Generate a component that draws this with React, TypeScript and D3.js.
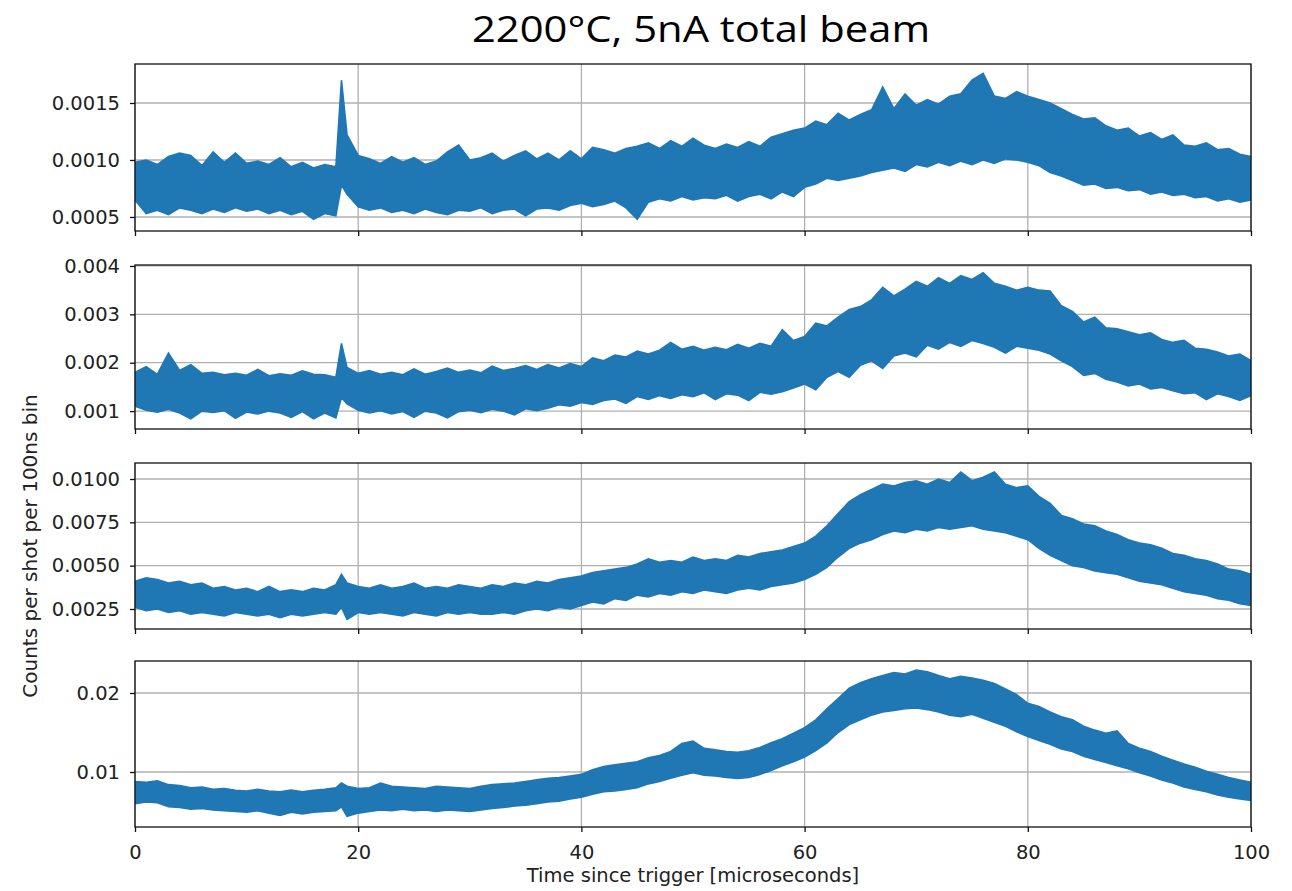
import React, { useEffect, useRef } from 'react';
import * as d3 from 'd3';

// sample times in microseconds (extra point at 18.5 for the prompt spike)
const TIME_US = [...d3.range(0, 19), 18.5, ...d3.range(19, 101)];
const X_TICKS = [0, 20, 40, 60, 80, 100];

// upper / lower edge of the noisy trace, in units of 1e-4 counts
const hi1 = [
  9.8, 10.0, 9.6, 10.3, 10.6, 10.4, 9.5, 10.7, 9.8, 10.6, 9.7, 9.9, 9.6, 10.2, 9.4, 9.8, 9.3, 9.6, 9.4,
  17.0,
  12.2, 10.4, 10.1, 9.7, 10.3, 9.8, 10.2, 9.6, 9.9, 10.7, 11.3, 10.0,
  10.2, 10.6, 9.9, 10.4, 10.8, 10.1, 10.6, 10.0, 10.8, 10.1,
  11.1, 10.9, 10.6, 11.0, 11.2, 11.5, 11.0, 11.7, 11.2, 11.9,
  11.3, 11.0, 11.4, 11.1, 11.6, 11.2, 12.0, 12.3, 12.6, 12.8,
  13.4, 13.1, 14.1, 13.5, 14.0, 14.4, 16.4, 14.5, 15.8, 14.8,
  15.3, 14.9, 15.6, 15.8, 17.0, 17.6, 15.6, 15.4, 16.0, 15.6,
  15.3, 15.0, 14.5, 14.0, 13.6, 13.7, 13.0, 12.6, 12.8, 12.1,
  12.4, 11.8, 12.2, 11.3, 11.2, 11.5, 10.9, 11.0, 10.5, 10.3,
];
const lo1 = [
  6.5, 5.3, 5.6, 5.2, 5.8, 5.6, 5.3, 5.7, 5.4, 5.8, 5.5, 5.7, 5.3, 5.6, 5.2, 5.5, 4.8, 5.3, 5.1,
  7.8,
  7.0, 5.9, 5.6, 5.8, 5.4, 5.6, 5.3, 5.7, 5.4, 5.2, 5.6, 5.5,
  5.8, 5.3, 5.6, 5.7, 5.1, 5.7, 5.8, 5.6, 6.0, 6.2,
  5.9, 6.1, 6.4, 5.8, 4.8, 6.3, 6.6, 6.4, 6.8, 6.5,
  6.7, 6.6, 6.9, 6.4, 6.8, 7.0, 6.6, 7.2, 6.8, 7.6,
  7.9, 8.4, 8.2, 8.4, 8.6, 8.9, 9.1, 9.3, 9.0, 9.6,
  9.4, 9.8, 9.5, 9.9, 9.6, 10.0, 9.7, 10.1, 10.0, 9.8,
  9.5, 8.9, 8.6, 8.2, 7.8, 7.9, 7.5, 7.6, 7.3, 7.4,
  7.0, 7.2, 6.9, 7.0, 6.7, 6.8, 6.4, 6.6, 6.3, 6.5,
];

const hi2 = [
  18.0, 19.2, 17.6, 22.0, 18.4, 19.6, 17.8, 18.0, 17.5, 17.8, 17.4, 18.6, 17.3, 17.7, 17.4, 18.3, 17.6, 17.5, 17.0,
  24.0,
  19.0, 17.8, 18.4, 17.6, 18.0, 17.5, 18.7, 17.6, 18.2, 18.9, 18.0, 18.5,
  17.9, 19.3, 18.4, 18.8, 19.4, 18.6, 19.6, 18.9, 19.8, 19.2,
  21.0, 20.4, 21.6, 21.2, 22.4, 21.8, 22.6, 24.2, 22.8, 23.4,
  22.6, 23.2, 22.7, 23.8, 23.0, 24.0, 23.4, 26.8, 24.6, 25.4,
  28.2, 27.6, 29.4, 31.0, 31.6, 33.0, 35.6, 33.8, 35.2, 36.8,
  35.8, 37.6, 36.4, 38.0, 37.2, 38.6, 36.4, 35.8, 35.0, 35.6,
  35.0, 34.8, 31.8, 30.6, 28.4, 29.4, 27.2, 27.0, 26.4, 25.8,
  26.2, 24.8, 24.2, 24.6, 23.0, 22.8, 22.2, 21.4, 21.8, 20.4,
];
const lo2 = [
  11.0, 10.2, 9.8, 10.4, 9.6, 8.4, 10.0, 9.7, 10.1, 8.5, 9.8, 9.4, 10.0, 9.6, 8.7, 9.9, 8.4, 9.6, 8.6,
  12.8,
  11.5, 10.2, 9.6, 10.1, 9.4, 9.9, 8.7, 10.0, 9.6, 8.6, 9.9, 10.2,
  9.7, 10.4, 10.0, 9.2, 10.5, 10.1, 10.6, 11.3, 11.0, 11.8,
  11.4, 12.2, 12.5, 11.6, 13.0, 12.4, 13.2, 12.6, 13.4, 13.0,
  13.8, 12.4, 13.6, 13.3, 12.2, 13.9, 13.5, 14.0, 14.8, 15.6,
  14.4, 17.0, 18.2, 17.0, 19.5, 20.4, 18.8, 21.4, 22.0, 21.2,
  23.6, 22.8, 24.2, 23.4, 24.6, 24.0, 23.2, 22.0, 23.4, 23.0,
  22.6, 21.8, 20.4, 19.2, 17.4, 17.8, 16.6, 16.0, 15.2, 15.6,
  14.6, 14.9, 14.2, 13.6, 13.8, 12.4, 13.6, 13.0, 12.2, 13.2,
];

const hi3 = [
  41, 43, 42, 40, 41, 39, 40, 37, 38, 36, 37, 35, 38, 35, 36, 35, 37, 36, 39,
  45,
  40, 38, 37, 39, 37, 38, 40, 37, 38, 37, 39, 38,
  37, 39, 38, 40, 39, 41, 40, 42, 43, 44,
  46, 47, 48, 49, 51, 54, 52, 53, 52, 55,
  53, 54, 53, 56, 55, 57, 58, 59, 61, 63,
  67, 73, 80, 87, 91, 94, 97, 96, 98, 99,
  97, 100, 98, 104, 99, 101, 104, 97, 95, 96,
  90, 86, 79, 77, 74, 73, 70, 68, 65, 63,
  62, 60, 57, 56, 54, 53, 51, 48, 47, 45,
];
const lo3 = [
  26, 24, 25, 23, 24, 22, 23, 22, 21, 23, 22, 21, 22, 20, 22, 21, 22, 23, 22,
  26,
  19, 23, 22, 23, 22, 21, 23, 22, 21, 23, 22, 23,
  22, 22, 23, 22, 24, 25, 24, 26, 25, 27,
  29, 28, 31, 30, 33, 32, 34, 33, 35, 34,
  36, 35, 34, 36, 37, 36, 38, 39, 40, 42,
  45, 49, 55, 60, 63, 65, 68, 70, 69, 71,
  70, 72, 71, 72, 73, 71, 70, 69, 67, 65,
  60, 56, 53, 50, 49, 47, 46, 45, 43, 41,
  40, 39, 37, 35, 34, 33, 31, 30, 28, 27,
];

const hi4 = [
  88, 87, 89, 84, 83, 80, 81, 78, 79, 77, 76, 78, 76, 75, 77, 75, 77, 78, 80,
  86,
  82, 79, 80, 86, 82, 81, 80, 79, 82, 81, 80, 79,
  82, 84, 85, 86, 88, 90, 92, 93, 95, 97,
  103, 107, 109, 111, 113, 118, 121, 126, 136, 139,
  130, 128, 126, 125, 127, 131, 137, 142, 149, 156,
  166, 180, 193, 206, 213, 218, 222, 226, 224, 229,
  227, 222, 218, 221, 219, 216, 212, 205, 198, 187,
  183, 176, 170, 166, 158, 153, 149, 152, 136, 130,
  126, 120, 115, 110, 106, 101, 97, 93, 90, 87,
];
const lo4 = [
  60, 62, 61, 56, 55, 53, 54, 52, 51, 50, 49, 51, 48, 45, 49, 47, 49, 50, 51,
  56,
  44, 48, 50, 52, 51, 53, 51, 52, 50, 52, 51, 50,
  52, 54, 55, 57, 58, 60, 62, 63, 66, 68,
  72, 75, 76, 78, 80, 85, 88, 92, 96, 99,
  96, 95, 93, 92, 93, 97, 102, 108, 113, 119,
  127, 137, 150, 160, 166, 172, 176, 178, 180, 181,
  179, 176, 172, 170, 173, 168, 163, 158, 151, 145,
  140, 135, 129, 126, 120, 116, 112, 108, 104, 99,
  95, 90, 86, 81, 78, 75, 71, 68, 66, 64,
];

const Y_DOMAINS = [
  [0.000377, 0.001842],
  [0.00063, 0.00402],
  [0.001346, 0.010923],
  [0.00304, 0.02405],
];
const Y_TICKS = [
  [0.0005, 0.001, 0.0015],
  [0.001, 0.002, 0.003, 0.004],
  [0.0025, 0.005, 0.0075, 0.01],
  [0.01, 0.02],
];
const Y_FORMATS = ['.4f', '.3f', '.4f', '.2f'];

const UPPER = [hi1, hi2, hi3, hi4];
const LOWER = [lo1, lo2, lo3, lo4];

const UNIT = 1e-4;
const BLUE = '#1f77b4';
const FONT = 'DejaVu Sans, sans-serif';

export default function App() {
  const svgRef = useRef<SVGSVGElement>(null);

  useEffect(() => {
    const svg = d3.select(svgRef.current);
    svg.selectAll('*').remove();

    const left = 135;
    const right = 1251;
    const boxes = [
      [64, 231],
      [265, 429],
      [463, 629],
      [661, 827],
    ];

    const x = d3.scaleLinear().domain([0, 100]).range([left, right]);

    svg.append('rect').attr('width', 1292).attr('height', 891).attr('fill', '#fff');

    boxes.forEach(([top, bottom], i) => {
      const y = d3.scaleLinear().domain(Y_DOMAINS[i]).range([bottom, top]);
      const g = svg.append('g');

      // grid
      g.selectAll('.vgrid')
        .data(X_TICKS)
        .enter()
        .append('line')
        .attr('x1', (d) => x(d))
        .attr('x2', (d) => x(d))
        .attr('y1', top)
        .attr('y2', bottom)
        .attr('stroke', '#b0b0b0')
        .attr('stroke-width', 1.3);
      g.selectAll('.hgrid')
        .data(Y_TICKS[i])
        .enter()
        .append('line')
        .attr('x1', left)
        .attr('x2', right)
        .attr('y1', (d) => y(d))
        .attr('y2', (d) => y(d))
        .attr('stroke', '#b0b0b0')
        .attr('stroke-width', 1.3);

      // trace band
      const clipId = `clip-${i}`;
      svg
        .append('clipPath')
        .attr('id', clipId)
        .append('rect')
        .attr('x', left)
        .attr('y', top)
        .attr('width', right - left)
        .attr('height', bottom - top);

      const lower = LOWER[i];
      const area = d3
        .area<number>()
        .x((_, j) => x(TIME_US[j]))
        .y0((_, j) => y(lower[j] * UNIT))
        .y1((d) => y(d * UNIT));

      g.append('path')
        .datum(UPPER[i])
        .attr('clip-path', `url(#${clipId})`)
        .attr('d', area)
        .attr('fill', BLUE)
        .attr('stroke', BLUE)
        .attr('stroke-width', 1.6)
        .attr('stroke-linejoin', 'miter');

      // axes
      const yAxis = g
        .append('g')
        .attr('transform', `translate(${left},0)`)
        .call(
          d3
            .axisLeft(y)
            .tickValues(Y_TICKS[i])
            .tickFormat(d3.format(Y_FORMATS[i]) as any)
            .tickSize(5)
            .tickPadding(10)
        );
      const xAxis = g
        .append('g')
        .attr('transform', `translate(0,${bottom})`)
        .call(
          d3
            .axisBottom(x)
            .tickValues(X_TICKS)
            .tickFormat((d) => (i === boxes.length - 1 ? String(d) : ''))
            .tickSize(5)
            .tickPadding(13)
        );
      [yAxis, xAxis].forEach((a) => {
        a.select('.domain').remove();
        a.attr('font-family', FONT).attr('font-size', 19.5).attr('color', '#222');
        a.selectAll('line').attr('stroke', '#111').attr('stroke-width', 1.3);
      });

      // spines
      g.append('rect')
        .attr('x', left)
        .attr('y', top)
        .attr('width', right - left)
        .attr('height', bottom - top)
        .attr('fill', 'none')
        .attr('stroke', '#111')
        .attr('stroke-width', 1.3);
    });

    svg
      .append('text')
      .attr('x', 701)
      .attr('y', 42)
      .attr('text-anchor', 'middle')
      .attr('font-family', 'Open Sans, sans-serif')
      .attr('font-size', 37)
      .attr('textLength', 458)
      .attr('lengthAdjust', 'spacingAndGlyphs')
      .attr('fill', '#000')
      .text('2200°C, 5nA total beam');

    svg
      .append('text')
      .attr('x', (left + right) / 2)
      .attr('y', 882)
      .attr('text-anchor', 'middle')
      .attr('font-family', FONT)
      .attr('font-size', 19.5)
      .attr('fill', '#222')
      .text('Time since trigger [microseconds]');

    svg
      .append('text')
      .attr('transform', 'translate(37,546) rotate(-90)')
      .attr('text-anchor', 'middle')
      .attr('font-family', FONT)
      .attr('font-size', 20)
      .attr('fill', '#222')
      .text('Counts per shot per 100ns bin');
  }, []);

  return (
    <svg
      ref={svgRef}
      width={1292}
      height={891}
      style={{ position: 'absolute', left: 0, top: 0 }}
    />
  );
}
